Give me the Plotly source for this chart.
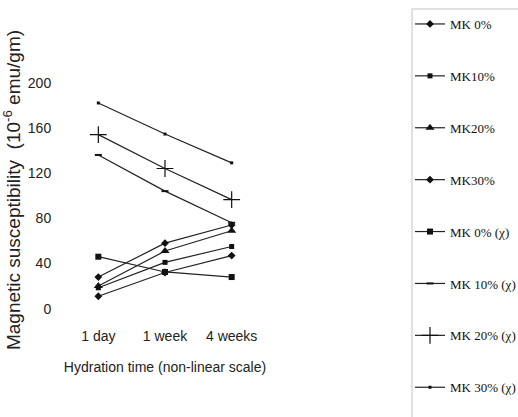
import plotly.graph_objects as go

categories = ["1 day", "1 week", "4 weeks"]
series_names = ["MK 0%", "MK10%", "MK20%", "MK30%",
                "MK 0% (χ)", "MK 10% (χ)", "MK 20% (χ)", "MK 30% (χ)"]
mk0 = [11, 32, 47]
mk10 = [18.5, 41, 55]
mk20 = [20, 51, 69]
mk30 = [28, 58, 74]
mk0_chi = [46, 32.5, 28]
mk10_chi = [136, 104, 76]
mk20_chi = [154, 124, 96.5]
mk30_chi = [182, 154.5, 129]
y_ticks = [0, 40, 80, 120, 160, 200]

values = [mk0, mk10, mk20, mk30, mk0_chi, mk10_chi, mk20_chi, mk30_chi]
markers = [
    dict(symbol="diamond", size=6),
    dict(symbol="square", size=5),
    dict(symbol="triangle-up", size=8),
    dict(symbol="diamond", size=6),
    dict(symbol="square", size=6),
    dict(symbol="line-ew", size=5, line=dict(width=2, color="#111")),
    dict(symbol="cross-thin", size=12, line=dict(width=1.2, color="#111")),
    dict(symbol="square", size=3),
]

L, R, T, B = 65, 253, 60, 97
W, H = 518, 417
pw, ph = W - L - R, H - T - B

SANS = "Liberation Sans, Arial, sans-serif"

fig = go.Figure()
for i, (name, vals, mk) in enumerate(zip(series_names, values, markers)):
    m = dict(color="#111")
    m.update(mk)
    fig.add_trace(go.Scatter(
        x=categories, y=vals, name=name, mode="lines+markers",
        line=dict(color="#222", width=1.2), marker=m,
        legendgroup=f"g{i}",
    ))

def px_x(p):
    return (p - L) / pw

def px_y(p):
    return (H - B - p) / ph

fig.add_shape(type="rect", xref="paper", yref="paper",
              x0=px_x(412), x1=px_x(530), y0=px_y(430), y1=px_y(9),
              line=dict(color="#d8d8d8", width=1.5), fillcolor="rgba(0,0,0,0)")

fig.update_layout(
    width=W, height=H,
    margin=dict(l=L, r=R, t=T, b=B, autoexpand=False),
    paper_bgcolor="white", plot_bgcolor="white",
    showlegend=True,
    legend=dict(
        x=px_x(410), y=px_y(9), xanchor="left", yanchor="top",
        font=dict(family="Liberation Serif, Times New Roman, serif", size=13, color="#111"),
        tracegroupgap=32, bgcolor="rgba(0,0,0,0)", borderwidth=0,
        itemwidth=30, maxheight=430,
    ),
    xaxis=dict(
        type="category", range=[-0.5, 2.5], showline=False, showgrid=False,
        zeroline=False, ticks="outside", ticklen=3, tickcolor="white",
        automargin=False,
        tickfont=dict(family=SANS, size=14, color="#222"),
        title=dict(text="Hydration time (non-linear scale)", standoff=19,
                   font=dict(family=SANS, size=14, color="#222")),
    ),
    yaxis=dict(
        range=[-10, 220], tickvals=y_ticks, showline=False, showgrid=False,
        zeroline=False, ticks="outside", ticklen=10, tickcolor="white",
        automargin=False,
        tickfont=dict(family=SANS, size=14, color="#222"),
        title=dict(text="Magnetic susceptibility  (10<sup>-6</sup> emu/gm)", standoff=6,
                   font=dict(family=SANS, size=19, color="#222")),
    ),
)

fig.write_html("out.html")
